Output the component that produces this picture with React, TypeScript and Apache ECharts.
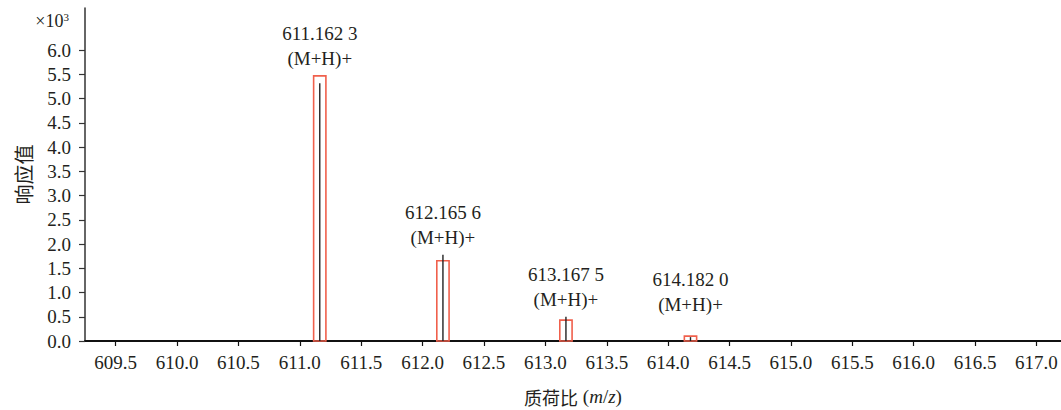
import React, { useEffect, useRef } from "react";
import * as echarts from "echarts";

// m/z of the observed peaks
const peakMz = [611.1623, 612.1656, 613.1675, 614.182];
// observed intensity (×10³)
const peakIntensity = [5.32, 1.78, 0.5, 0.08];
// theoretical isotope intensity (×10³), drawn as red boxes
const theoIntensity = [5.47, 1.655, 0.43, 0.1];
// peak annotations
const peakLabels = ["611.162 3", "612.165 6", "613.167 5", "614.182 0"];
const ionLabel = "(M+H)+";
// tick labels
const xTicks = [609.5, 610.0, 610.5, 611.0, 611.5, 612.0, 612.5, 613.0, 613.5, 614.0, 614.5, 615.0, 615.5, 616.0, 616.5, 617.0];
const yTicks = [0, 0.5, 1.0, 1.5, 2.0, 2.5, 3.0, 3.5, 4.0, 4.5, 5.0, 5.5, 6.0];

const SERIF = "Liberation Serif";
const CJK = "Noto Sans CJK SC";
const TXT = "#231f20";
const BOX_W = 0.1;

export default function App() {
  const ref = useRef<HTMLDivElement>(null);
  useEffect(() => {
    if (!ref.current) return;
    const chart = echarts.init(ref.current, undefined, { renderer: "svg" });
    const data = peakMz.map((m, i) => [m, peakIntensity[i], theoIntensity[i], i]);
    chart.setOption({
      animation: false,
      grid: { left: 85, right: 0, top: 8, bottom: 69, containLabel: false, outerBoundsMode: "none" },
      graphic: [
        {
          type: "text",
          x: 69,
          y: 21,
          style: {
            text: "{a|×10}{s|3}",
            align: "right",
            verticalAlign: "middle",
            rich: {
              a: { fontFamily: SERIF, fontSize: 18, fill: TXT, lineHeight: 20 },
              s: { fontFamily: SERIF, fontSize: 11, fill: TXT, lineHeight: 20, padding: [0, 0, 9, 0] },
            },
          },
        },
      ],
      xAxis: {
        type: "value",
        min: 609.25,
        max: 617.2,
        name: "{c|质荷比}{n| (}{i|m}{n|/}{i|z}{n|)}",
        nameLocation: "middle",
        nameGap: 46,
        nameTextStyle: {
          rich: {
            c: { fontFamily: CJK, fontSize: 18, color: TXT },
            n: { fontFamily: SERIF, fontSize: 19, color: TXT },
            i: { fontFamily: SERIF, fontSize: 19, color: TXT, fontStyle: "italic" },
          },
        },
        axisLine: { show: true, lineStyle: { color: "#111", width: 2 } },
        axisTick: { show: true, length: 5, customValues: xTicks, lineStyle: { color: "#111", width: 1.2 } },
        axisLabel: {
          customValues: xTicks,
          formatter: (v: number) => v.toFixed(1),
          fontFamily: SERIF,
          fontSize: 19,
          color: TXT,
          margin: 12,
        },
        splitLine: { show: false },
      },
      yAxis: {
        type: "value",
        min: 0,
        max: 6.87,
        name: "响应值",
        nameLocation: "middle",
        nameRotate: 90,
        nameGap: 52,
        nameTextStyle: { fontFamily: CJK, fontSize: 20, color: TXT },
        axisLine: { show: true, lineStyle: { color: "#333", width: 1.5 } },
        axisTick: { show: true, length: 6, customValues: yTicks, lineStyle: { color: "#333", width: 1.2 } },
        axisLabel: {
          customValues: yTicks,
          formatter: (v: number) => v.toFixed(1),
          fontFamily: SERIF,
          fontSize: 19,
          color: TXT,
          margin: 14,
        },
        splitLine: { show: false },
      },
      series: [
        {
          type: "custom",
          clip: false,
          data,
          renderItem: (params: any, api: any) => {
            const mz = api.value(0);
            const inten = api.value(1);
            const theo = api.value(2);
            const idx = api.value(3);
            const base = api.coord([mz, 0]);
            const stickTop = api.coord([mz, inten]);
            const boxTL = api.coord([mz - BOX_W / 2, theo]);
            const boxBR = api.coord([mz + BOX_W / 2, 0]);
            const top = Math.min(stickTop[1], boxTL[1]);
            const labelBottom = Math.min(top - 5, base[1] - 24);
            return {
              type: "group",
              children: [
                {
                  type: "rect",
                  shape: { x: boxTL[0], y: boxTL[1], width: boxBR[0] - boxTL[0], height: boxBR[1] - boxTL[1] },
                  style: { fill: "none", stroke: "#f0604c", lineWidth: 1.6 },
                  z2: 1,
                },
                {
                  type: "line",
                  shape: { x1: stickTop[0], y1: stickTop[1], x2: base[0], y2: base[1] },
                  style: { stroke: "#222", lineWidth: 1.4 },
                  z2: 2,
                },
                {
                  type: "text",
                  x: base[0],
                  y: labelBottom,
                  style: {
                    text: peakLabels[idx] + "\n" + ionLabel,
                    align: "center",
                    verticalAlign: "bottom",
                    fontFamily: SERIF,
                    fontSize: 19,
                    lineHeight: 25,
                    fill: TXT,
                  },
                },
              ],
            };
          },
        },
      ],
    });
    return () => chart.dispose();
  }, []);
  return <div ref={ref} style={{ position: "absolute", left: 0, top: 0, width: 1061, height: 410 }} />;
}
